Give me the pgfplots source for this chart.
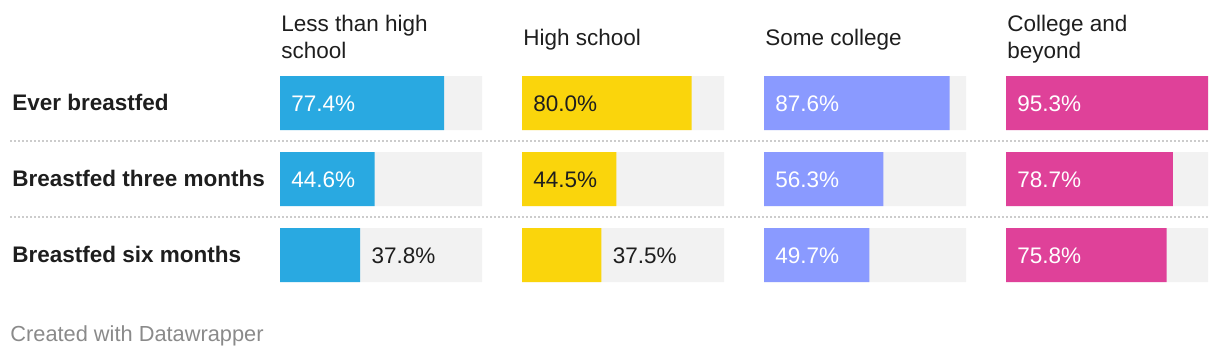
\documentclass[border=0pt]{standalone}
\usepackage{fontspec}
\setmainfont{Liberation Sans}
\usepackage{pgfplots}
\pgfplotsset{compat=1.18}
\definecolor{cblue}{HTML}{29A9E1}
\definecolor{cyellow}{HTML}{FAD50C}
\definecolor{cviolet}{HTML}{8A9AFF}
\definecolor{cpink}{HTML}{DF4199}
\definecolor{bggrey}{HTML}{F2F2F2}
\definecolor{txt}{HTML}{1E1E1E}
\definecolor{foot}{HTML}{8A8A8A}
\definecolor{sep}{HTML}{CCCCCC}
\newcommand{\mf}{\fontsize{11.25}{13.5}\selectfont}
\pgfplotsset{
  panel/.style={scale only axis, width=101pt, height=114pt, xmin=0, xmax=95.3,
    ymin=-0.5, ymax=2.5, y dir=reverse, hide axis, clip=false, anchor=south west},
  bgbar/.style={xbar, bar width=27pt, bar shift=0pt, fill=bggrey, draw=none},
  vbar/.style={xbar, bar width=27pt, bar shift=0pt, fill=#1, draw=none},
  lab/.style={draw=none, mark=none, point meta=explicit symbolic, nodes near coords,
    every node near coord/.append style={anchor=base west, inner sep=0pt,
      xshift=5.5pt, yshift=-4pt, text=#1, font=\mf}},
}
\begin{document}
\begin{tikzpicture}[x=1pt,y=1pt]
\path[use as bounding box] (0,0) rectangle (610,179);
% headers
\begin{scope}[every node/.style={anchor=base west, inner sep=0pt, text=txt, font=\mf}]
\node at (140.5,163) {Less than high};
\node at (140.5,149.5) {school};
\node at (261.5,156) {High school};
\node at (382.5,156) {Some college};
\node at (503.5,163) {College and};
\node at (503.5,149.5) {beyond};
% row labels
\node at (6,123.5) {\bfseries Ever breastfed};
\node at (6,85.5) {\bfseries Breastfed three months};
\node at (6,47.5) {\bfseries Breastfed six months};
% footer
\node[text=foot, font=\fontsize{10.9}{13}\selectfont] at (5,8) {Created with Datawrapper};
\end{scope}
% separators
\draw[sep, line width=1pt, dash pattern=on 1pt off 1pt] (5,108.65) -- (604,108.65);
\draw[sep, line width=1pt, dash pattern=on 1pt off 1pt] (5,70.65) -- (604,70.65);
% panel 1
\begin{axis}[panel, at={(140pt,32.5pt)}]
\addplot[bgbar] coordinates {(95.3,0) (95.3,1) (95.3,2)};
\addplot[vbar=cblue] coordinates {(77.4,0) (44.6,1) (37.8,2)};
\addplot[lab=white] coordinates {(0,0) [77.4\%] (0,1) [44.6\%]};
\addplot[lab=txt] coordinates {(37.8,2) [37.8\%]};
\end{axis}
% panel 2
\begin{axis}[panel, at={(261pt,32.5pt)}]
\addplot[bgbar] coordinates {(95.3,0) (95.3,1) (95.3,2)};
\addplot[vbar=cyellow] coordinates {(80.0,0) (44.5,1) (37.5,2)};
\addplot[lab=txt] coordinates {(0,0) [80.0\%] (0,1) [44.5\%] (37.5,2) [37.5\%]};
\end{axis}
% panel 3
\begin{axis}[panel, at={(382pt,32.5pt)}]
\addplot[bgbar] coordinates {(95.3,0) (95.3,1) (95.3,2)};
\addplot[vbar=cviolet] coordinates {(87.6,0) (56.3,1) (49.7,2)};
\addplot[lab=white] coordinates {(0,0) [87.6\%] (0,1) [56.3\%] (0,2) [49.7\%]};
\end{axis}
% panel 4
\begin{axis}[panel, at={(503pt,32.5pt)}]
\addplot[bgbar] coordinates {(95.3,0) (95.3,1) (95.3,2)};
\addplot[vbar=cpink] coordinates {(95.3,0) (78.7,1) (75.8,2)};
\addplot[lab=white] coordinates {(0,0) [95.3\%] (0,1) [78.7\%] (0,2) [75.8\%]};
\end{axis}
\end{tikzpicture}
\end{document}
